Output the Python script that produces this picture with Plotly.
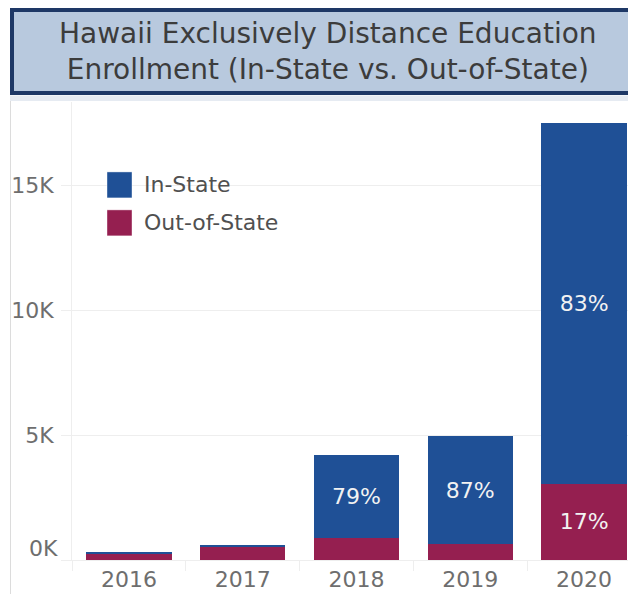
import plotly.graph_objects as go

# ---- data ----
years = ["2016", "2017", "2018", "2019", "2020"]
in_state = [80, 70, 3320, 4330, 14450]
out_state = [230, 550, 870, 630, 3050]
series_names = ["In-State", "Out-of-State"]
y_tick_vals = [0, 5000, 10000, 15000]
y_tick_text = ["0K", "5K", "10K", "15K"]
title_lines = ["Hawaii Exclusively Distance Education", "Enrollment (In-State vs. Out-of-State)"]

IN_COLOR = "#1f5096"
OUT_COLOR = "#951f50"
FONT = "DejaVu Sans"

totals = [a + b for a, b in zip(in_state, out_state)]
label_min = 1000
in_text = [f"{round(100*a/t)}%" if a >= label_min else "" for a, t in zip(in_state, totals)]
out_text = [f"{round(100*b/t)}%" if b >= label_min else "" for b, t in zip(out_state, totals)]

# ---- geometry (page body has an 8px margin, so the figure starts at 8,8) ----
OFF = 8
W, H = 636 - OFF, 594 - OFF
L, R, T, B = 72 - OFF, 636 - OFF, 102 - OFF, 560.5 - OFF
def px_x(x):  # x in window pixels
    return (x - OFF - L) / (R - L)
def px_y(y):  # y in window pixels
    return (B - (y - OFF)) / (B - T)

fig = go.Figure()
fig.add_trace(go.Bar(
    x=years, y=out_state, name=series_names[1], marker=dict(color=OUT_COLOR, line=dict(width=0)),
    text=out_text, textposition="inside", insidetextanchor="middle", textangle=0,
    textfont=dict(family=FONT, size=22, color="#f2f2f2"), showlegend=False,
))
fig.add_trace(go.Bar(
    x=years, y=in_state, name=series_names[0], marker=dict(color=IN_COLOR, line=dict(width=0)),
    text=in_text, textposition="inside", insidetextanchor="middle", textangle=0,
    textfont=dict(family=FONT, size=22, color="#f2f2f2"), showlegend=False,
))

grid = "#eeeeee"
fig.update_layout(
    width=W, height=H,
    margin=dict(l=L, r=W - R, t=T, b=H - B, pad=0),
    barmode="stack", bargap=0.25,
    paper_bgcolor="white", plot_bgcolor="white",
    font=dict(family=FONT, size=22, color="#6e6e6e"),
    showlegend=False,
    xaxis=dict(
        type="category", range=[-0.5, 4.456], ticks="outside", tickson="boundaries",
        ticklen=10, tickcolor=grid, showgrid=False, showline=True, linecolor=grid,
        tickfont=dict(family=FONT, size=22, color="#6e6e6e"), fixedrange=True,
    ),
    yaxis=dict(
        range=[0, 18340], tickvals=y_tick_vals, ticktext=[""] + y_tick_text[1:],
        ticks="outside", ticklen=10, tickcolor=grid, showgrid=True, gridcolor=grid,
        showline=True, linecolor=grid, zeroline=False, ticklabelstandoff=3,
        tickfont=dict(family=FONT, size=22, color="#6e6e6e"), fixedrange=True,
    ),
)

shapes = []
# title box
shapes.append(dict(type="rect", xref="paper", yref="paper",
                   x0=px_x(12), x1=px_x(700), y0=px_y(93), y1=px_y(10),
                   fillcolor="#b8c9de", line=dict(color="#1e3866", width=4), layer="above"))
# light strip under the title
shapes.append(dict(type="rect", xref="paper", yref="paper",
                   x0=px_x(10), x1=px_x(700), y0=px_y(101), y1=px_y(95.5),
                   fillcolor="#e6ebf2", line=dict(width=0), layer="below"))
# left frame line
shapes.append(dict(type="line", xref="paper", yref="paper",
                   x0=px_x(10.5), x1=px_x(10.5), y0=px_y(101), y1=px_y(600),
                   line=dict(color="#dcdcdc", width=1), layer="below"))
# legend swatches
for i, col in enumerate([IN_COLOR, OUT_COLOR]):
    top = 172 + i * 38
    shapes.append(dict(type="rect", xref="paper", yref="paper",
                       x0=px_x(107), x1=px_x(132), y0=px_y(top + 26), y1=px_y(top),
                       fillcolor=col, line=dict(color="rgba(255,255,255,0.4)", width=1), layer="above"))
fig.update_layout(shapes=shapes)

annotations = []
annotations.append(dict(
    text="<br>".join(title_lines), xref="paper", yref="paper",
    x=px_x(328), y=px_y(51), xanchor="center", yanchor="middle", showarrow=False,
    font=dict(family=FONT, size=28, color="#3c3c3c"), align="center",
))
for i, name in enumerate(series_names):
    annotations.append(dict(
        text=name, xref="paper", yref="paper", x=px_x(142), y=px_y(185 + i * 38),
        xanchor="left", yanchor="middle", showarrow=False,
        font=dict(family=FONT, size=22, color="#505050"),
    ))
# flush bottom tick label of the y axis
annotations.append(dict(
    text=y_tick_text[0], xref="paper", yref="y", x=px_x(59), y=y_tick_vals[0],
    xanchor="right", yanchor="bottom", showarrow=False, borderpad=0, yshift=-2,
    font=dict(family=FONT, size=22, color="#6e6e6e"),
))
fig.update_layout(annotations=annotations)

fig.write_html("out.html")
